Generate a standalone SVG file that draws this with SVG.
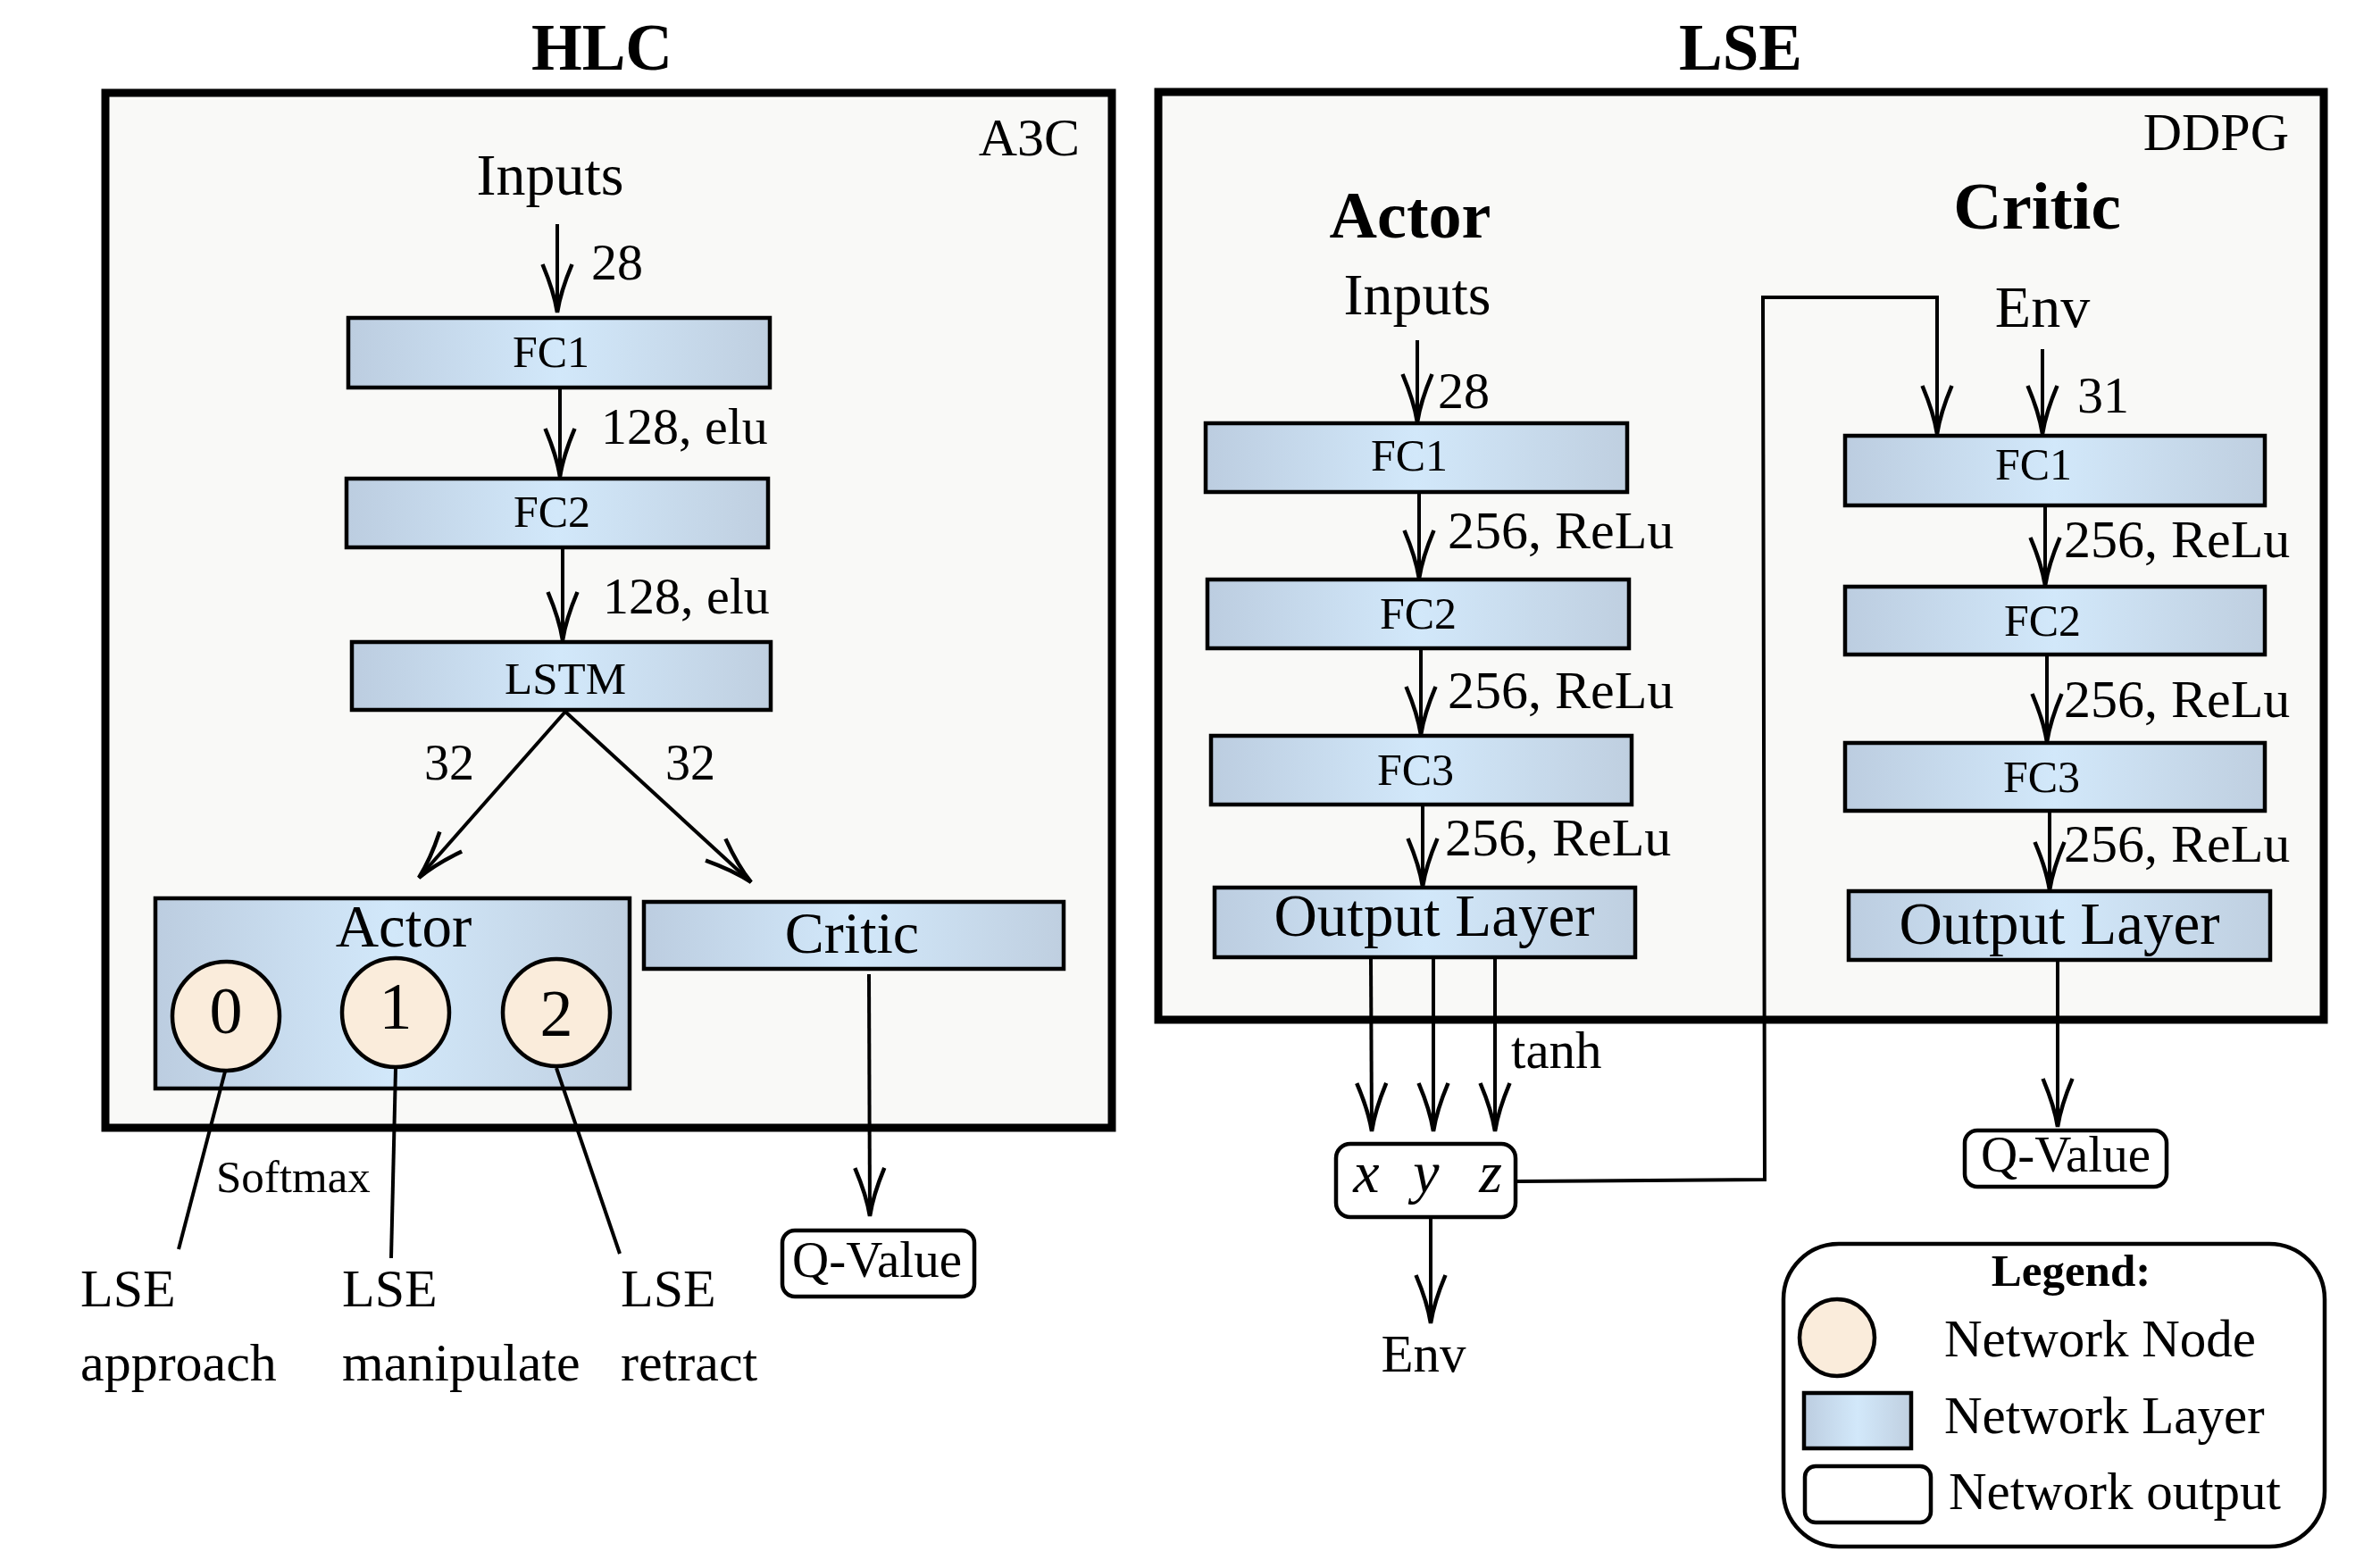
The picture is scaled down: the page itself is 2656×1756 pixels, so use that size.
<svg xmlns="http://www.w3.org/2000/svg" width="2656" height="1756" viewBox="0 0 2656 1756">
<style>
text{font-family:"Liberation Serif","Times New Roman",serif;fill:#000}
.b{font-weight:bold}
.m{text-anchor:middle}
.e{text-anchor:end}
.i{font-style:italic}
.panel{fill:#f9f9f7;stroke:#000;stroke-width:9}
.layer{fill:url(#lg);stroke:#000;stroke-width:4.5}
.node{fill:#faecdb;stroke:#000;stroke-width:4.5}
.out{fill:#fff;stroke:#000;stroke-width:4.5}
.c{fill:none;stroke:#000;stroke-width:4}
.a{fill:none;stroke:#000;stroke-width:4;marker-end:url(#arr)}
</style>
<defs>
<linearGradient id="lg" x1="0" y1="0" x2="1" y2="0">
<stop offset="0" stop-color="#bccde0"/>
<stop offset="0.5" stop-color="#d2e8fa"/>
<stop offset="1" stop-color="#bfcfe0"/>
</linearGradient>
<marker id="arr" markerUnits="userSpaceOnUse" viewBox="0 0 60 40" markerWidth="60" markerHeight="40" refX="58" refY="20" orient="auto">
<path d="M4,3.5 Q35,16.5 58,20 Q35,23.5 4,36.5" fill="none" stroke="#000" stroke-width="4.5"/>
</marker>
</defs>
<rect width="2656" height="1756" fill="#fff"/>

<g id="titles">
<text class="b m" x="674" y="78" font-size="73">HLC</text>
<text class="b m" x="1949" y="78" font-size="73">LSE</text>
</g>

<g id="hlc-panel">
<rect class="panel" x="118" y="104" width="1127" height="1159"/>
<text class="e" x="1209" y="174" font-size="60">A3C</text>
<text class="m" x="616" y="218" font-size="66">Inputs</text>
</g>

<g id="lse-panel">
<rect class="panel" x="1297" y="103" width="1305" height="1039"/>
<text class="e" x="2563" y="168" font-size="60">DDPG</text>
<text class="b m" x="1579" y="266" font-size="74">Actor</text>
<text class="b m" x="2281" y="256" font-size="75">Critic</text>
<text class="m" x="1587" y="352" font-size="66">Inputs</text>
<text class="m" x="2287" y="366" font-size="66">Env</text>
</g>

<g id="hlc-fc1"><rect class="layer" x="390" y="356" width="472" height="78"/><text class="m" x="617" y="411" font-size="50">FC1</text></g>
<g id="hlc-fc2"><rect class="layer" x="388" y="536" width="472" height="77"/><text class="m" x="618" y="590" font-size="50">FC2</text></g>
<g id="hlc-lstm"><rect class="layer" x="394" y="719" width="469" height="76"/><text class="m" x="633" y="777" font-size="51">LSTM</text></g>
<g id="hlc-actor">
<rect class="layer" x="174" y="1006" width="531" height="213"/>
<text class="m" x="452" y="1060" font-size="67">Actor</text>
</g>
<g id="hlc-node0"><ellipse class="node" cx="253" cy="1138" rx="60" ry="61"/><text class="m" x="253" y="1157" font-size="74">0</text></g>
<g id="hlc-node1"><ellipse class="node" cx="443" cy="1134" rx="60" ry="61"/><text class="m" x="443" y="1152" font-size="74">1</text></g>
<g id="hlc-node2"><ellipse class="node" cx="623" cy="1134" rx="60" ry="60"/><text class="m" x="623" y="1160" font-size="74">2</text></g>
<g id="hlc-critic"><rect class="layer" x="721" y="1010" width="470" height="75"/><text class="m" x="954" y="1067" font-size="66">Critic</text></g>
<g id="hlc-qvalue"><rect class="out" x="876" y="1378" width="215" height="74" rx="14"/><text class="m" x="982" y="1430" font-size="57">Q-Value</text></g>
<g id="lse-approach"><text x="90" y="1463" font-size="60">LSE</text><text x="90" y="1546" font-size="60">approach</text></g>
<g id="lse-manipulate"><text x="383" y="1463" font-size="60">LSE</text><text x="383" y="1546" font-size="60">manipulate</text></g>
<g id="lse-retract"><text x="695" y="1463" font-size="60">LSE</text><text x="695" y="1546" font-size="60">retract</text></g>

<g id="actor-fc1"><rect class="layer" x="1350" y="474" width="472" height="77"/><text class="m" x="1578" y="527" font-size="50">FC1</text></g>
<g id="actor-fc2"><rect class="layer" x="1352" y="649" width="472" height="77"/><text class="m" x="1588" y="704" font-size="50">FC2</text></g>
<g id="actor-fc3"><rect class="layer" x="1356" y="824" width="471" height="77"/><text class="m" x="1585" y="879" font-size="50">FC3</text></g>
<g id="actor-output"><rect class="layer" x="1360" y="994" width="471" height="78"/><text class="m" x="1606" y="1048" font-size="67">Output Layer</text></g>
<g id="critic-fc1"><rect class="layer" x="2066" y="488" width="470" height="78"/><text class="m" x="2277" y="537" font-size="50">FC1</text></g>
<g id="critic-fc2"><rect class="layer" x="2066" y="657" width="470" height="76"/><text class="m" x="2287" y="712" font-size="50">FC2</text></g>
<g id="critic-fc3"><rect class="layer" x="2066" y="832" width="470" height="76"/><text class="m" x="2286" y="887" font-size="50">FC3</text></g>
<g id="critic-output"><rect class="layer" x="2070" y="998" width="472" height="77"/><text class="m" x="2306" y="1057" font-size="67">Output Layer</text></g>
<g id="xyz">
<rect class="out" x="1496" y="1281" width="201" height="82" rx="16"/>
<text class="m i" x="1530" y="1335" font-size="66">x</text>
<text class="m i" x="1597" y="1335" font-size="66">y</text>
<text class="m i" x="1669" y="1335" font-size="66">z</text>
</g>
<g id="env-out"><text class="m" x="1594" y="1536" font-size="59">Env</text></g>
<g id="lse-qvalue"><rect class="out" x="2200" y="1266" width="226" height="63" rx="14"/><text class="m" x="2313" y="1312" font-size="57">Q-Value</text></g>

<g id="legend">
<rect x="1997" y="1393" width="606" height="339" rx="62" fill="#fff" stroke="#000" stroke-width="4.5"/>
<text class="b m" x="2319" y="1440" font-size="51">Legend:</text>
<ellipse class="node" cx="2057" cy="1498" rx="42" ry="43"/>
<text x="2177" y="1519" font-size="59">Network Node</text>
<rect class="layer" x="2020" y="1560" width="120" height="62"/>
<text x="2177" y="1605" font-size="59">Network Layer</text>
<rect class="out" x="2021" y="1642" width="141" height="63" rx="12"/>
<text x="2182" y="1690" font-size="59">Network output</text>
</g>

<g id="connectors">
<line class="a" x1="624" y1="251" x2="624" y2="350"/>
<line class="a" x1="627" y1="436" x2="627" y2="534"/>
<line class="a" x1="630" y1="615" x2="630" y2="717"/>
<line class="a" x1="633" y1="797" x2="469" y2="983"/>
<line class="a" x1="633" y1="797" x2="841" y2="988"/>
<line class="a" x1="973" y1="1091" x2="974" y2="1362"/>
<line class="c" x1="252" y1="1200" x2="200" y2="1399" stroke="#1c2b3a"/>
<line class="c" x1="443" y1="1197" x2="438" y2="1409"/>
<line class="c" x1="623" y1="1196" x2="694" y2="1404"/>

<line class="a" x1="1587" y1="381" x2="1587" y2="473"/>
<line class="a" x1="1589" y1="553" x2="1589" y2="648"/>
<line class="a" x1="1591" y1="728" x2="1591" y2="823"/>
<line class="a" x1="1593" y1="903" x2="1593" y2="993"/>
<line class="a" x1="1535" y1="1074" x2="1536" y2="1267"/>
<line class="a" x1="1605" y1="1074" x2="1605" y2="1267"/>
<line class="a" x1="1674" y1="1074" x2="1674" y2="1267"/>
<path class="a" d="M1699,1323 L1976,1321 L1974,333 L2169,333 L2169,486"/>
<line class="a" x1="2287" y1="391" x2="2287" y2="486"/>
<line class="a" x1="2290" y1="568" x2="2290" y2="656"/>
<line class="a" x1="2292" y1="735" x2="2292" y2="831"/>
<line class="a" x1="2295" y1="910" x2="2295" y2="997"/>
<line class="a" x1="2304" y1="1077" x2="2304" y2="1262"/>
<line class="a" x1="1602" y1="1365" x2="1602" y2="1482"/>
</g>

<g id="edge-labels">
<text x="662" y="313" font-size="58">28</text>
<text x="673" y="497" font-size="58">128, elu</text>
<text x="675" y="687" font-size="58">128, elu</text>
<text x="475" y="873" font-size="56">32</text>
<text x="745" y="873" font-size="56">32</text>
<text x="242" y="1335" font-size="51">Softmax</text>
<text x="1610" y="457" font-size="58">28</text>
<text x="1621" y="614" font-size="60">256, ReLu</text>
<text x="1621" y="793" font-size="60">256, ReLu</text>
<text x="1618" y="958" font-size="60">256, ReLu</text>
<text x="2326" y="462" font-size="58">31</text>
<text x="2311" y="624" font-size="60">256, ReLu</text>
<text x="2311" y="803" font-size="60">256, ReLu</text>
<text x="2311" y="965" font-size="60">256, ReLu</text>
<text x="1692" y="1196" font-size="59">tanh</text>
</g>
</svg>
